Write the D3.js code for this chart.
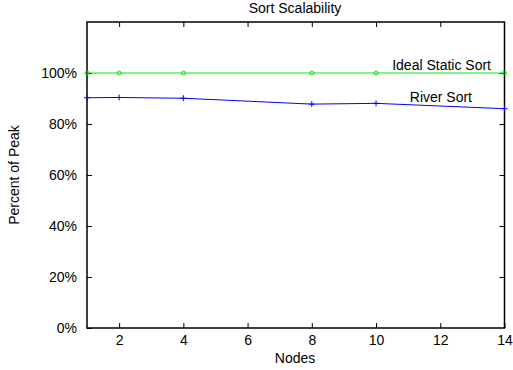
<!DOCTYPE html>
<html>
<head>
<meta charset="utf-8">
<script src="https://cdn.jsdelivr.net/npm/d3@7"></script>
<style>
  body { margin: 0; background: #fff; }
  text { font-family: "Liberation Sans", Arial, Helvetica, sans-serif; fill: #000; }
</style>
</head>
<body>
<svg id="chart" width="513" height="370"></svg>
<script>
// data
const nodes = [1, 2, 4, 8, 10, 14];
const idealSort = [100, 100, 100, 100, 100, 100];
const riverSort = [90.3, 90.4, 90.1, 87.8, 88.1, 86.0];
const xTicks = [2, 4, 6, 8, 10, 12, 14];
const yTicks = [0, 20, 40, 60, 80, 100];

const margin = { top: 22, right: 8, bottom: 42, left: 87 };
const width = 513, height = 370;

const svg = d3.select('#chart');

const x = d3.scaleLinear().domain([1, 14]).range([margin.left, width - margin.right - 0.5]);
const y = d3.scaleLinear().domain([0, 120]).range([height - margin.bottom, margin.top]);

const fontSize = 14;
const tickLen = 5;

// bottom axis + mirrored top ticks
svg.append('g')
  .attr('transform', `translate(0,${y(0)})`)
  .call(d3.axisBottom(x).tickValues(xTicks).tickSizeInner(-tickLen).tickSizeOuter(0).tickPadding(7))
  .call(g => g.select('.domain').remove())
  .call(g => g.selectAll('text').attr('font-size', fontSize).attr('font-family', null));

svg.append('g')
  .attr('transform', `translate(0,${y(120)})`)
  .call(d3.axisTop(x).tickValues(xTicks.slice(0, -1)).tickSizeInner(-tickLen).tickSizeOuter(0))
  .call(g => g.select('.domain').remove())
  .call(g => g.selectAll('text').remove());

// left axis + mirrored right ticks
svg.append('g')
  .attr('transform', `translate(${x(1)},0)`)
  .call(d3.axisLeft(y).tickValues(yTicks).tickFormat(d => d + '%').tickSizeInner(-tickLen).tickSizeOuter(0).tickPadding(10))
  .call(g => g.select('.domain').remove())
  .call(g => g.selectAll('text').attr('font-size', fontSize).attr('font-family', null));

svg.append('g')
  .attr('transform', `translate(${x(14)},0)`)
  .call(d3.axisRight(y).tickValues(yTicks.slice(1)).tickSizeInner(-tickLen).tickSizeOuter(0))
  .call(g => g.select('.domain').remove())
  .call(g => g.selectAll('text').remove());

// frame
svg.append('rect')
  .attr('x', x(1)).attr('y', y(120))
  .attr('width', x(14) - x(1)).attr('height', y(0) - y(120))
  .attr('fill', 'none').attr('stroke', '#000').attr('stroke-width', 1.5);

const line = d3.line().x((d, i) => x(nodes[i])).y(d => y(d));

// Ideal Static Sort
svg.append('path')
  .datum(idealSort)
  .attr('d', line)
  .attr('fill', 'none').attr('stroke', '#00ee00').attr('stroke-width', 1);

svg.append('g').selectAll('circle')
  .data(idealSort)
  .join('circle')
  .attr('cx', (d, i) => x(nodes[i]))
  .attr('cy', d => y(d))
  .attr('r', 2)
  .attr('fill', 'none').attr('stroke', '#00ee00').attr('stroke-width', 1);

// River Sort
svg.append('path')
  .datum(riverSort)
  .attr('d', line)
  .attr('fill', 'none').attr('stroke', '#0000ff').attr('stroke-width', 1);

svg.append('g').selectAll('path')
  .data(riverSort)
  .join('path')
  .attr('d', (d, i) => {
    const cx = x(nodes[i]), cy = y(d);
    return `M${cx - 3},${cy}H${cx + 3}M${cx},${cy - 3}V${cy + 3}`;
  })
  .attr('stroke', '#0000ff').attr('stroke-width', 1);

// series labels
svg.append('text')
  .attr('x', 491).attr('y', 70)
  .attr('text-anchor', 'end').attr('font-size', fontSize)
  .text('Ideal Static Sort');

svg.append('text')
  .attr('x', 472).attr('y', 102)
  .attr('text-anchor', 'end').attr('font-size', fontSize)
  .text('River Sort');

// titles
svg.append('text')
  .attr('x', 295).attr('y', 13)
  .attr('text-anchor', 'middle').attr('font-size', fontSize)
  .text('Sort Scalability');

svg.append('text')
  .attr('x', 295).attr('y', 363)
  .attr('text-anchor', 'middle').attr('font-size', fontSize)
  .text('Nodes');

svg.append('text')
  .attr('transform', `translate(19,${(y(0) + y(120)) / 2}) rotate(-90)`)
  .attr('text-anchor', 'middle').attr('font-size', fontSize)
  .text('Percent of Peak');
</script>
</body>
</html>
